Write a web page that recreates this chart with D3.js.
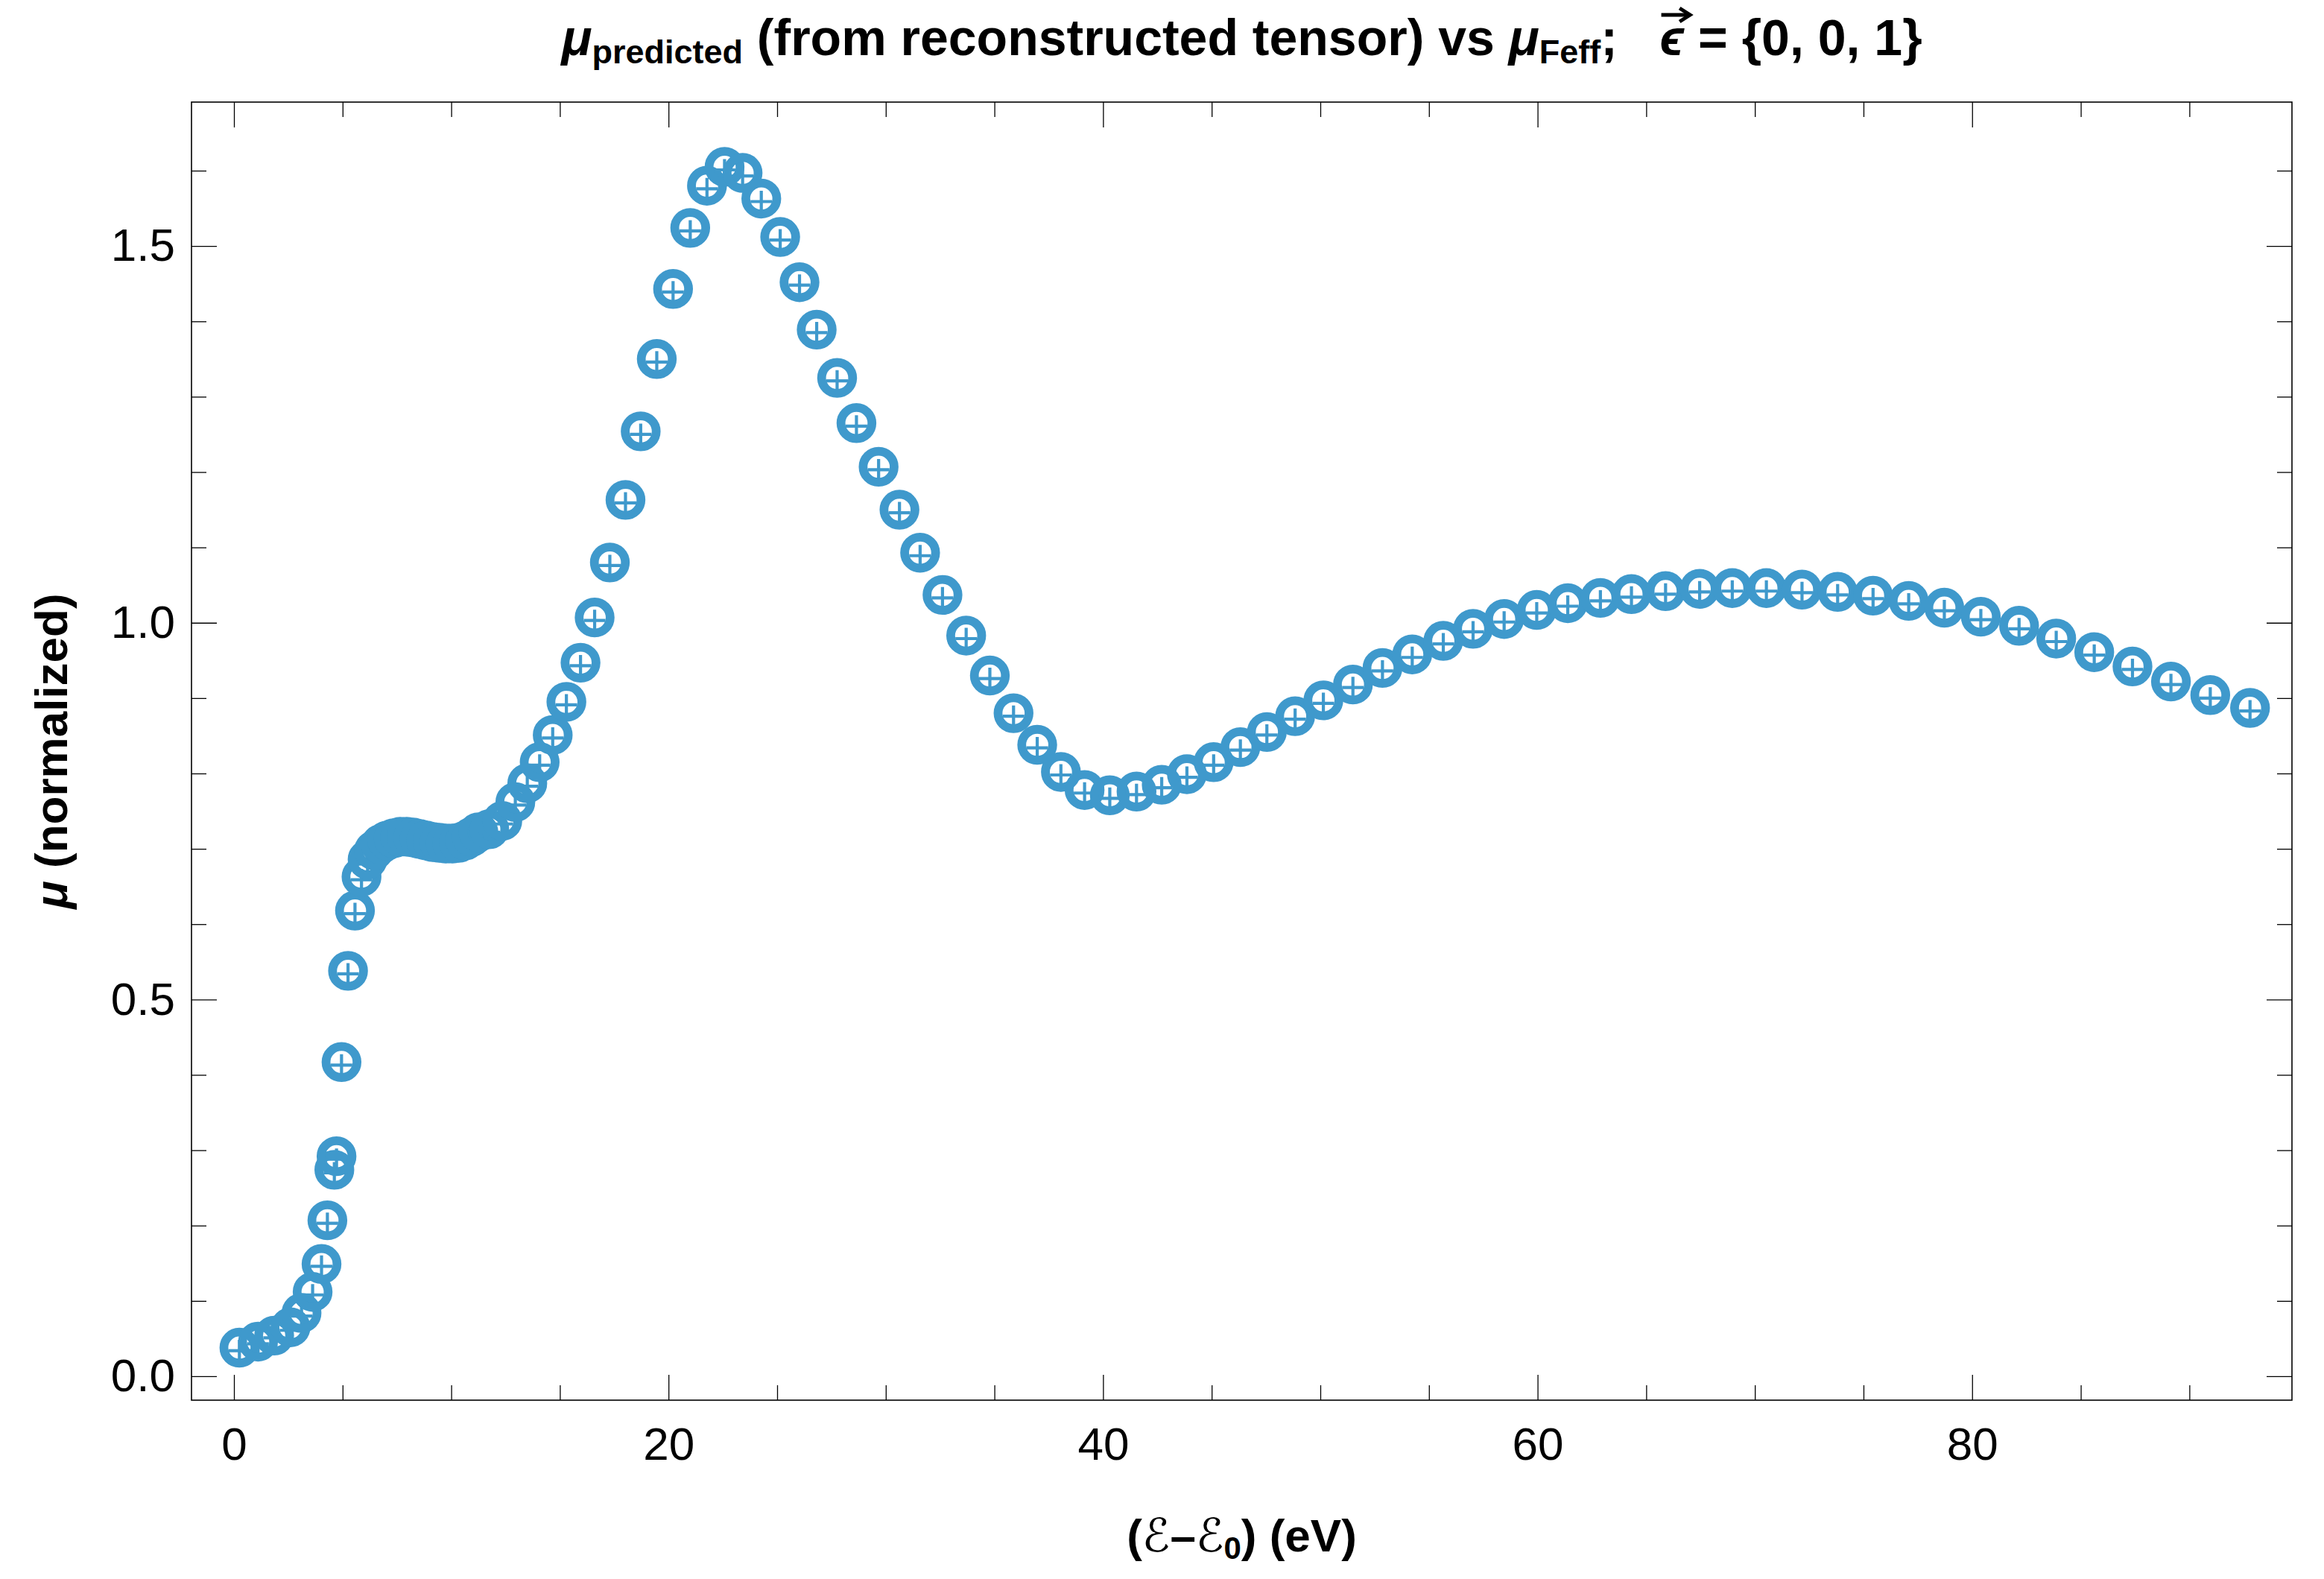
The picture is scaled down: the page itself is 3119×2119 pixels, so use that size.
<!DOCTYPE html>
<html>
<head>
<meta charset="utf-8">
<script src="https://cdn.jsdelivr.net/npm/d3@7/dist/d3.min.js"></script>
<style>
  html, body { margin: 0; padding: 0; background: #ffffff; }
  svg { display: block; }
  text { white-space: pre; }
</style>
</head>
<body>
<svg id="chart" width="3119" height="2119"></svg>
<script>
// ---------------- data ----------------
const energy = [
  0.25, 1.11, 1.85, 2.6, 3.11, 3.62, 4.03, 4.3, 4.62, 4.72, 4.95, 5.25, 5.57, 5.87,
  6.15, 6.45, 6.75, 7.05, 7.35, 7.65, 7.95, 8.25, 8.55, 8.85, 9.15, 9.45, 9.75, 10.05, 10.35, 10.65, 10.95, 11.25,
  11.75, 12.35, 12.95, 13.5, 14.07, 14.67, 15.3, 15.95, 16.6, 17.3, 18.02, 18.72, 19.46, 20.21, 21.0, 21.77, 22.58, 23.41, 24.27, 25.14, 26.03, 26.82,
  27.76, 28.65, 29.67, 30.63, 31.58, 32.61, 33.7, 34.79, 35.88, 36.97,
  38.06, 39.15, 40.31, 41.54, 42.7, 43.86, 45.09, 46.32, 47.54, 48.84,
  50.14, 51.5, 52.86, 54.23, 55.66, 57.03, 58.46, 59.96, 61.39, 62.89,
  64.32, 65.89, 67.46, 68.96, 70.53, 72.17, 73.81, 75.44, 77.08, 78.72,
  80.4, 82.16, 83.87, 85.62, 87.38, 89.15, 90.96, 92.79
];
const muPredicted = [
  0.038, 0.046, 0.054, 0.065, 0.084, 0.112, 0.149, 0.207, 0.274, 0.292, 0.417, 0.538, 0.618, 0.663,
  0.686, 0.698, 0.706, 0.711, 0.714, 0.716, 0.716, 0.715, 0.713, 0.711, 0.709, 0.708, 0.707, 0.707, 0.708, 0.711, 0.716, 0.722,
  0.726, 0.737, 0.762, 0.787, 0.815, 0.851, 0.895, 0.947, 1.007, 1.08, 1.163, 1.254, 1.35, 1.443, 1.524, 1.58, 1.605, 1.597, 1.563, 1.512, 1.452, 1.389,
  1.325, 1.265, 1.207, 1.15, 1.093, 1.037, 0.983, 0.93, 0.88, 0.838,
  0.802, 0.778, 0.771, 0.776, 0.785, 0.799, 0.815, 0.835, 0.855, 0.876,
  0.897, 0.918, 0.94, 0.958, 0.976, 0.992, 1.005, 1.017, 1.026, 1.033,
  1.038, 1.042, 1.045, 1.046, 1.046, 1.044, 1.041, 1.036, 1.029, 1.02,
  1.008, 0.996, 0.979, 0.961, 0.942, 0.922, 0.904, 0.887
];
const muFeff = [
  0.034, 0.043, 0.051, 0.061, 0.080, 0.108, 0.146, 0.203, 0.270, 0.288, 0.413, 0.534, 0.614, 0.659,
  0.682, 0.694, 0.702, 0.707, 0.710, 0.712, 0.713, 0.712, 0.710, 0.708, 0.706, 0.705, 0.704, 0.704, 0.705, 0.708, 0.712, 0.718,
  0.722, 0.733, 0.758, 0.783, 0.811, 0.847, 0.891, 0.943, 1.003, 1.076, 1.159, 1.250, 1.346, 1.439, 1.520, 1.576, 1.601, 1.593, 1.559, 1.508, 1.448, 1.385,
  1.321, 1.261, 1.203, 1.146, 1.089, 1.033, 0.979, 0.926, 0.876, 0.834,
  0.798, 0.774, 0.767, 0.772, 0.781, 0.795, 0.811, 0.831, 0.851, 0.872,
  0.893, 0.914, 0.936, 0.954, 0.972, 0.988, 1.001, 1.013, 1.022, 1.029,
  1.034, 1.038, 1.041, 1.042, 1.042, 1.040, 1.037, 1.032, 1.025, 1.016,
  1.004, 0.992, 0.975, 0.957, 0.938, 0.918, 0.900, 0.883
];
const xMajorTicks = [0, 20, 40, 60, 80];
const xMinorTicks = [5, 10, 15, 25, 30, 35, 45, 50, 55, 65, 70, 75, 85, 90];
const yMajorTicks = [0.0, 0.5, 1.0, 1.5];
const yMinorTicks = [0.1, 0.2, 0.3, 0.4, 0.6, 0.7, 0.8, 0.9, 1.1, 1.2, 1.3, 1.4, 1.6];

// ---------------- layout ----------------
const W = 3119, H = 2119;
const L = 257, R = 3076, T = 137, B = 1879;
const color = "#3F99CC";
const FONT = "'Liberation Sans', Arial, 'DejaVu Sans', sans-serif";

const svg = d3.select("#chart");
svg.append("rect").attr("width", W).attr("height", H).attr("fill", "#fff");

const x = d3.scaleLinear().domain([-1.955, 94.72]).range([L, R]);
const y = d3.scaleLinear().domain([-0.0317, 1.691]).range([B, T]);

function styleAxis(g) {
  g.select(".domain").remove();
  g.selectAll(".tick line").attr("stroke", "#000").attr("stroke-width", 1.3);
  g.selectAll("text").attr("font-family", FONT).attr("font-size", 62).attr("fill", "#000");
}

const MAJ = 34, MIN = 20;
// bottom
svg.append("g").attr("transform", `translate(0,${B})`)
  .call(d3.axisBottom(x).tickValues(xMajorTicks).tickSize(-MAJ).tickSizeOuter(0).tickPadding(36).tickFormat(d3.format("d")))
  .call(styleAxis);
svg.append("g").attr("transform", `translate(0,${B})`)
  .call(d3.axisBottom(x).tickValues(xMinorTicks).tickSize(-MIN).tickSizeOuter(0).tickFormat(""))
  .call(styleAxis);
// top
svg.append("g").attr("transform", `translate(0,${T})`)
  .call(d3.axisTop(x).tickValues(xMajorTicks).tickSize(-MAJ).tickSizeOuter(0).tickFormat(""))
  .call(styleAxis);
svg.append("g").attr("transform", `translate(0,${T})`)
  .call(d3.axisTop(x).tickValues(xMinorTicks).tickSize(-MIN).tickSizeOuter(0).tickFormat(""))
  .call(styleAxis);
// left
svg.append("g").attr("transform", `translate(${L},0)`)
  .call(d3.axisLeft(y).tickValues(yMajorTicks).tickSize(-MAJ).tickSizeOuter(0).tickPadding(22).tickFormat(d3.format(".1f")))
  .call(styleAxis);
svg.append("g").attr("transform", `translate(${L},0)`)
  .call(d3.axisLeft(y).tickValues(yMinorTicks).tickSize(-MIN).tickSizeOuter(0).tickFormat(""))
  .call(styleAxis);
// right
svg.append("g").attr("transform", `translate(${R},0)`)
  .call(d3.axisRight(y).tickValues(yMajorTicks).tickSize(-MAJ).tickSizeOuter(0).tickFormat(""))
  .call(styleAxis);
svg.append("g").attr("transform", `translate(${R},0)`)
  .call(d3.axisRight(y).tickValues(yMinorTicks).tickSize(-MIN).tickSizeOuter(0).tickFormat(""))
  .call(styleAxis);

// frame
svg.append("rect").attr("x", L).attr("y", T).attr("width", R - L).attr("height", B - T)
  .attr("fill", "none").attr("stroke", "#000").attr("stroke-width", 1.6);

// ---------------- marks ----------------
const pts = energy.map((e, i) => ({ e, p: muPredicted[i], f: muFeff[i] }));
const plot = svg.append("g");
const ARM = 14.5;
plot.selectAll("path.plus").data(pts).enter().append("path")
  .attr("class", "plus")
  .attr("d", d => {
    const cx = x(d.e), cy = y(d.f);
    return `M${cx - ARM},${cy}H${cx + ARM}M${cx},${cy - ARM}V${cy + ARM}`;
  })
  .attr("stroke", color).attr("stroke-width", 4.2).attr("fill", "none");
plot.selectAll("circle.pred").data(pts).enter().append("circle")
  .attr("class", "pred")
  .attr("cx", d => x(d.e)).attr("cy", d => y(d.p)).attr("r", 20.8)
  .attr("fill", "none").attr("stroke", color).attr("stroke-width", 11.8);

// ---------------- labels ----------------
// title
const title = svg.append("text")
  .attr("x", (L + R) / 2).attr("y", 74)
  .attr("text-anchor", "middle")
  .attr("font-family", FONT).attr("font-weight", "bold").attr("font-size", 68).attr("fill", "#000");
title.append("tspan").attr("font-style", "italic").text("μ");
title.append("tspan").attr("font-size", 45).attr("dy", 11).text("predicted");
title.append("tspan").attr("dy", -11).text(" (from reconstructed tensor) vs ");
title.append("tspan").attr("font-style", "italic").text("μ");
title.append("tspan").attr("font-size", 45).attr("dy", 11).text("Feff");
title.append("tspan").attr("dy", -11).text(";   ");
const epsSpan = title.append("tspan").attr("font-style", "italic").text("ϵ");
title.append("tspan").text(" = {0, 0, 1}");

// arrow over epsilon
(function () {
  const node = title.node();
  const full = node.textContent;
  const idx = full.indexOf("ϵ");
  if (idx >= 0) {
    const ext = node.getExtentOfChar(idx);
    const ax0 = ext.x + 2, ax1 = ext.x + ext.width + 6, ay = ext.y + 8;
    svg.append("path")
      .attr("d", `M${ax0},${ay}L${ax1},${ay}`)
      .attr("stroke", "#000").attr("stroke-width", 5).attr("fill", "none");
    svg.append("path")
      .attr("d", `M${ax1 - 12},${ay - 9}L${ax1 + 2},${ay}L${ax1 - 12},${ay + 9}`)
      .attr("stroke", "#000").attr("stroke-width", 5).attr("fill", "none");
  }
})();

// y label
const yl = svg.append("text")
  .attr("transform", `translate(90,${(T + B) / 2 + 0}) rotate(-90)`)
  .attr("text-anchor", "middle")
  .attr("font-family", FONT).attr("font-weight", "bold").attr("font-size", 62).attr("fill", "#000");
yl.append("tspan").attr("font-style", "italic").text("μ");
yl.append("tspan").text(" (normalized)");

// x label
const xl = svg.append("text")
  .attr("x", (L + R) / 2).attr("y", 2082)
  .attr("text-anchor", "middle")
  .attr("font-family", FONT).attr("font-weight", "bold").attr("font-size", 62).attr("fill", "#000");
xl.append("tspan").text("(");
xl.append("tspan").attr("font-weight", "normal").attr("font-family", "'DejaVu Sans', sans-serif").text("ℰ");
xl.append("tspan").text("–");
xl.append("tspan").attr("font-weight", "normal").attr("font-family", "'DejaVu Sans', sans-serif").text("ℰ");
xl.append("tspan").attr("font-size", 42).attr("dy", 10).text("0");
xl.append("tspan").attr("dy", -10).text(") (eV)");
</script>
</body>
</html>
